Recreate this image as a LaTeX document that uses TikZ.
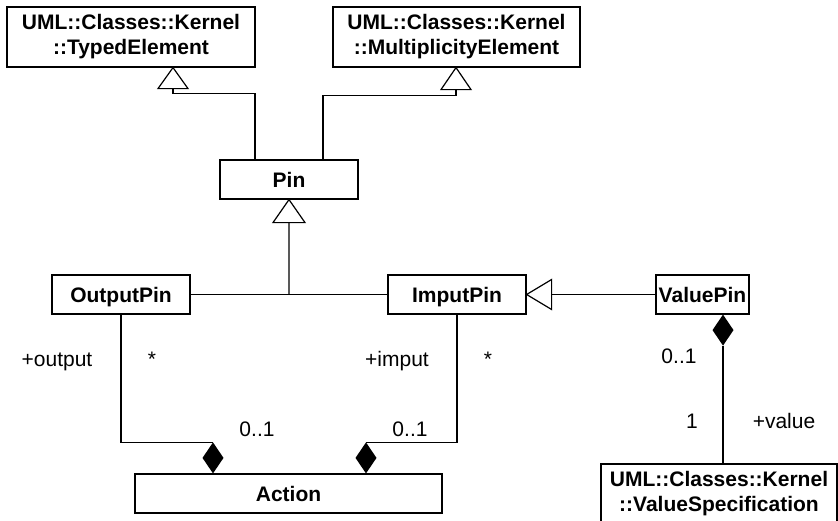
\documentclass[tikz,border=0pt]{standalone}
\usepackage{fontspec}
\setmainfont{Liberation Sans}
\usetikzlibrary{calc}
\tikzset{
  cls/.style={draw, line width=1.2pt, inner sep=0pt, minimum height=39pt,
    text height=15pt, text depth=0pt,
    font=\fontsize{21}{25}\selectfont\bfseries},
  cls2/.style={draw, line width=1.2pt, inner sep=0pt, minimum height=60pt,
    align=center, font=\fontsize{21}{25}\selectfont\bfseries},
  lbl/.style={anchor=base, inner sep=0pt, font=\fontsize{21}{25}\selectfont},
  conn/.style={line width=1.2pt},
  tri/.style={draw, fill=white, line width=1.2pt, line join=miter},
  compd/.pic={\fill[black] (0,0) -- (10.5,15.5) -- (0,31) -- (-10.5,15.5) -- cycle;}
}
\begin{document}
\begin{tikzpicture}[x=1pt, y=-1pt]
  \useasboundingbox (0,0) rectangle (838,520);

  % classes
  \node[cls2, minimum width=248pt] (te) at (131,37) {UML::Classes::Kernel\\::TypedElement};
  \node[cls2, minimum width=247pt] (me) at (456.5,37) {UML::Classes::Kernel\\::MultiplicityElement};
  \node[cls, minimum width=138pt] (pin) at (289,179.5) {Pin};
  \node[cls, minimum width=138pt] (out) at (121,294.5) {OutputPin};
  \node[cls, minimum width=138pt] (inp) at (457,294.5) {ImputPin};
  \node[cls, minimum width=93pt] (val) at (702.5,294.5) {ValuePin};
  \node[cls, minimum width=307pt] (act) at (288.5,493.5) {Action};
  \node[cls2, minimum width=236pt] (vs) at (719,494) {UML::Classes::Kernel\\::ValueSpecification};

  % generalization tip points
  \coordinate (a1) at ([xshift=42pt]te.south);
  \coordinate (a2) at ([xshift=-0.5pt]me.south);
  \coordinate (a3) at (pin.south);
  \coordinate (a4) at (inp.east);
  \coordinate (j) at ($(out.east)!0.5!(inp.west)$);

  % generalizations
  \draw[conn] ([xshift=-34pt]pin.north) |- ([yshift=-26pt]a1) -- ([yshift=-21pt]a1);
  \draw[conn] ([xshift=34pt]pin.north) |- ([yshift=-28pt]a2) -- ([yshift=-22pt]a2);
  \draw[conn] (out.east) -- (inp.west);
  \draw[conn] (j) -- ([yshift=-23pt]a3);
  \draw[conn] (val.west) -- ([xshift=25pt]a4);
  \filldraw[tri] (a1) -- ++(15,21) -- ++(-30,0) -- cycle;
  \filldraw[tri] (a2) -- ++(15,22) -- ++(-30,0) -- cycle;
  \filldraw[tri] (a3) -- ++(16,23) -- ++(-32,0) -- cycle;
  \filldraw[tri] (a4) -- ++(25,-15) -- ++(0,30) -- cycle;

  % compositions
  \coordinate (d1) at ([xshift=-75.5pt,yshift=31pt]act.north);
  \coordinate (d2) at ([xshift=77.5pt,yshift=31pt]act.north);
  \coordinate (d3) at ([xshift=20.5pt]val.south);
  \draw[conn] (out.south) |- (d1);
  \draw[conn] (inp.south) |- (d2);
  \draw[conn] ([yshift=-31pt]d3) -- (d3 |- vs.north);
  \pic at (d1) {compd};
  \pic at (d2) {compd};
  \pic at (d3) {compd};

  % role names and multiplicities
  \node[lbl] (rout) at (57,366) {+output};
  \node[lbl] (mout) at (152,366) {*};
  \node[lbl] (aout) at (257,436) {0..1};
  \node[lbl] (rinp) at (397,366) {+imput};
  \node[lbl] (minp) at (488,366) {*};
  \node[lbl] (ainp) at (410,436) {0..1};
  \node[lbl] (mval) at (679,363) {0..1};
  \node[lbl] (mvs) at (692,428) {1};
  \node[lbl] (rvs) at (784,428) {+value};
\end{tikzpicture}
\end{document}
